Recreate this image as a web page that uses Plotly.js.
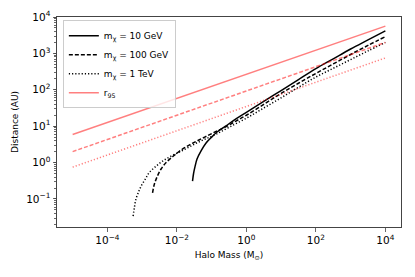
<!DOCTYPE html>
<html>
<head>
<meta charset="utf-8">
<script src="https://cdn.plot.ly/plotly-3.0.1.min.js"></script>
<style>html,body{margin:0;padding:0;background:#fff;}#chart{width:415px;height:277px;}</style>
</head>
<body>
<div id="chart"></div>
<script>
// Halo mass (M_sun) and distance (AU)
const r95Mass = [1e-5, 1e4];
const r95Solid = [5.9, 5600];
const r95Dashed = [2.0, 2000];
const r95Dotted = [0.75, 750];

const logM10 = [-1.55, -1.52, -1.48, -1.42, -1.3, -1.16, -1.0, -0.87, -0.6, -0.3, 0, 0.5, 1, 1.5, 2, 2.5, 3, 3.5, 4];
const logR10 = [-0.51, -0.3, -0.12, 0.1, 0.33, 0.54, 0.7, 0.82, 1.0, 1.2, 1.38, 1.68, 1.98, 2.28, 2.58, 2.85, 3.12, 3.37, 3.62];

const logM100 = [-2.70, -2.65, -2.56, -2.45, -2.31, -2.1, -1.93, -1.7, -1.45, -1.2, -0.97, -0.6, -0.3, 0, 0.5, 1, 1.5, 2, 2.5, 3, 3.5, 4];
const logR100 = [-0.83, -0.6, -0.37, -0.17, 0, 0.18, 0.31, 0.45, 0.58, 0.7, 0.81, 0.98, 1.14, 1.3, 1.6, 1.9, 2.18, 2.45, 2.71, 2.97, 3.22, 3.46];

const logM1000 = [-3.26, -3.22, -3.18, -3.1, -3.03, -2.9, -2.8, -2.6, -2.41, -2.2, -1.93, -1.7, -1.45, -1.2, -0.87, -0.5, 0, 0.5, 1, 1.5, 2, 2.5, 3, 3.5, 4];
const logR1000 = [-1.47, -1.22, -1.01, -0.8, -0.65, -0.44, -0.28, -0.1, 0.04, 0.16, 0.29, 0.4, 0.53, 0.64, 0.78, 0.97, 1.22, 1.5, 1.78, 2.07, 2.35, 2.59, 2.83, 3.07, 3.3];

const names = ['m<sub>χ</sub> = 10 GeV', 'm<sub>χ</sub> = 100 GeV', 'm<sub>χ</sub> = 1 TeV', 'r<sub>95</sub>'];

// tick labels
const xTickVals = [1e-4, 1e-2, 1, 1e2, 1e4];
const xTickText = ['10<sup>−4</sup>', '10<sup>−2</sup>', '10<sup>0</sup>', '10<sup>2</sup>', '10<sup>4</sup>'];
const yTickVals = [1e-1, 1, 1e1, 1e2, 1e3, 1e4];
const yTickText = ['10<sup>−1</sup>', '10<sup>0</sup>', '10<sup>1</sup>', '10<sup>2</sup>', '10<sup>3</sup>', '10<sup>4</sup>'];

const pow = a => a.map(v => Math.pow(10, v));
const red = 'rgba(255,0,0,0.5)';
const dashS = '4px,2px';
const dotS = '1.2px,2px';

const traces = [
  {x: pow(logM10), y: pow(logR10), mode: 'lines', name: names[0], line: {color: 'black', width: 1.5, shape: 'spline'}},
  {x: pow(logM100), y: pow(logR100), mode: 'lines', name: names[1], line: {color: 'black', width: 1.5, dash: dashS, shape: 'spline'}},
  {x: pow(logM1000), y: pow(logR1000), mode: 'lines', name: names[2], line: {color: 'black', width: 1.5, dash: dotS, shape: 'spline'}},
  {x: r95Mass, y: r95Solid, mode: 'lines', name: names[3], line: {color: red, width: 1.5}},
  {x: r95Mass, y: r95Dashed, mode: 'lines', showlegend: false, line: {color: red, width: 1.5, dash: dashS}},
  {x: r95Mass, y: r95Dotted, mode: 'lines', showlegend: false, line: {color: red, width: 1.5, dash: dotS}}
];

const axisCommon = {
  type: 'log', showgrid: false, zeroline: false,
  showline: true, mirror: true, linecolor: '#444', linewidth: 1,
  ticks: 'outside', ticklen: 3.5, tickwidth: 0.8, tickcolor: '#444',
  tickmode: 'array', tickfont: {family: 'DejaVu Sans', size: 10.5, color: '#000'}
};

const layout = {
  width: 415, height: 277,
  margin: {l: 57, r: 14, t: 17, b: 50},
  paper_bgcolor: '#fff', plot_bgcolor: '#fff',
  font: {family: 'DejaVu Sans', color: '#000'},
  showlegend: true,
  legend: {x: 0.017, y: 0.985, xanchor: 'left', yanchor: 'top',
    bgcolor: 'rgba(255,255,255,0.8)', bordercolor: '#ccc', borderwidth: 1,
    font: {family: 'DejaVu Sans', size: 9}, tracegroupgap: 0},
  xaxis: Object.assign({}, axisCommon, {
    range: [-5.45, 4.45], tickvals: xTickVals, ticktext: xTickText,
    title: {text: 'Halo Mass (M<sub>⊙</sub>)', font: {size: 9}, standoff: 6}
  }),
  yaxis: Object.assign({}, axisCommon, {
    range: [-1.77, 4], tickvals: yTickVals, ticktext: yTickText,
    title: {text: 'Distance (AU)', font: {size: 9}, standoff: 6},
    minor: {ticks: 'outside', ticklen: 2, dtick: 'D1', tickcolor: '#444'}
  })
};

Plotly.newPlot('chart', traces, layout, {displayModeBar: false, staticPlot: true});
</script>
</body>
</html>
